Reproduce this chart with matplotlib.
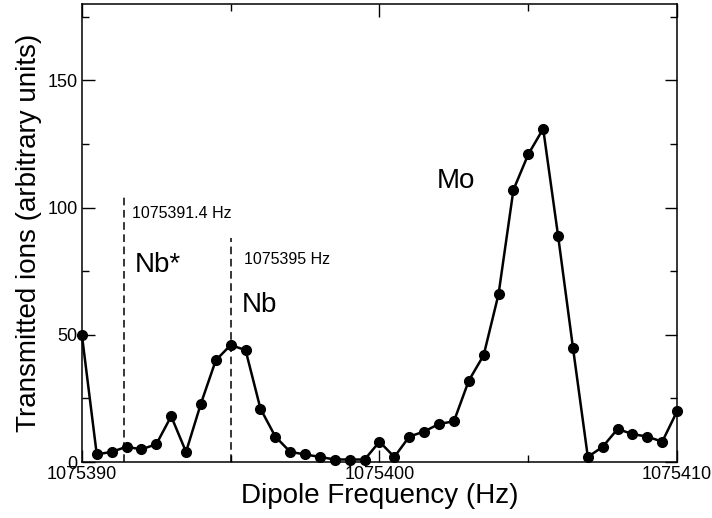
import numpy as np
import matplotlib.pyplot as plt
from matplotlib.ticker import FixedLocator

plt.rcParams['font.family'] = ['Liberation Sans', 'DejaVu Sans']

# frequency offsets from 1075390 Hz (0.5 Hz steps) and transmitted ion counts
base = 1075390
offsets = [0, 0.5, 1, 1.5, 2, 2.5, 3, 3.5, 4, 4.5,
           5, 5.5, 6, 6.5, 7, 7.5, 8, 8.5, 9, 9.5,
           10, 10.5, 11, 11.5, 12, 12.5, 13, 13.5, 14, 14.5,
           15, 15.5, 16, 16.5, 17, 17.5, 18, 18.5, 19, 19.5, 20]
counts = [50, 3, 4, 6, 5, 7, 18, 4, 23, 40,
          46, 44, 21, 10, 4, 3, 2, 1, 1, 1,
          8, 2, 10, 12, 15, 16, 32, 42, 66, 107,
          121, 131, 89, 45, 2, 6, 13, 11, 10, 8, 20]

# resonance markers: (frequency, top of dashed line)
marker_freqs = [1075391.4, 1075395.0]
marker_tops = [105, 88]

xticks_major = [1075390, 1075400, 1075410]
xticks_minor = [1075395, 1075405]
yticks_major = [0, 50, 100, 150]
yticks_minor = [25, 75, 125, 175]

freq = base + np.array(offsets)

fig = plt.figure(figsize=(7.12, 5.18), dpi=100)
ax = fig.add_axes([0.115, 0.108, 0.836, 0.884])

ax.plot(freq, counts, '-o', color='black', lw=1.8, ms=7, clip_on=False,
        zorder=3)

for xf, top in zip(marker_freqs, marker_tops):
    ax.plot([xf, xf], [0, top], '--', color='black', lw=1.1,
            dashes=(5, 3))

ax.text(1075391.7, 96, '1075391.4 Hz', fontsize=11.5)
ax.text(1075391.78, 74.6, 'Nb*', fontsize=20)
ax.text(1075395.45, 77.7, '1075395 Hz', fontsize=11.5)
ax.text(1075395.38, 59, 'Nb', fontsize=20)
ax.text(1075401.93, 107.6, 'Mo', fontsize=20)

ax.set_xlim(1075390, 1075410)
ax.set_ylim(0, 180)
ax.xaxis.set_major_locator(FixedLocator(xticks_major))
ax.xaxis.set_minor_locator(FixedLocator(xticks_minor))
ax.yaxis.set_major_locator(FixedLocator(yticks_major))
ax.yaxis.set_minor_locator(FixedLocator(yticks_minor))
ax.set_xticklabels([str(v) for v in xticks_major])

ax.tick_params(which='both', direction='in', top=True, right=True,
               labelsize=13, width=1)
ax.tick_params(which='major', length=9, pad=3)
ax.tick_params(which='minor', length=5)
for sp in ax.spines.values():
    sp.set_linewidth(1.1)

ax.set_xlabel('Dipole Frequency (Hz)', fontsize=20, labelpad=0)
ax.set_ylabel('Transmitted ions (arbitrary units)', fontsize=20, labelpad=4)

fig.savefig('out.png', dpi=100)
